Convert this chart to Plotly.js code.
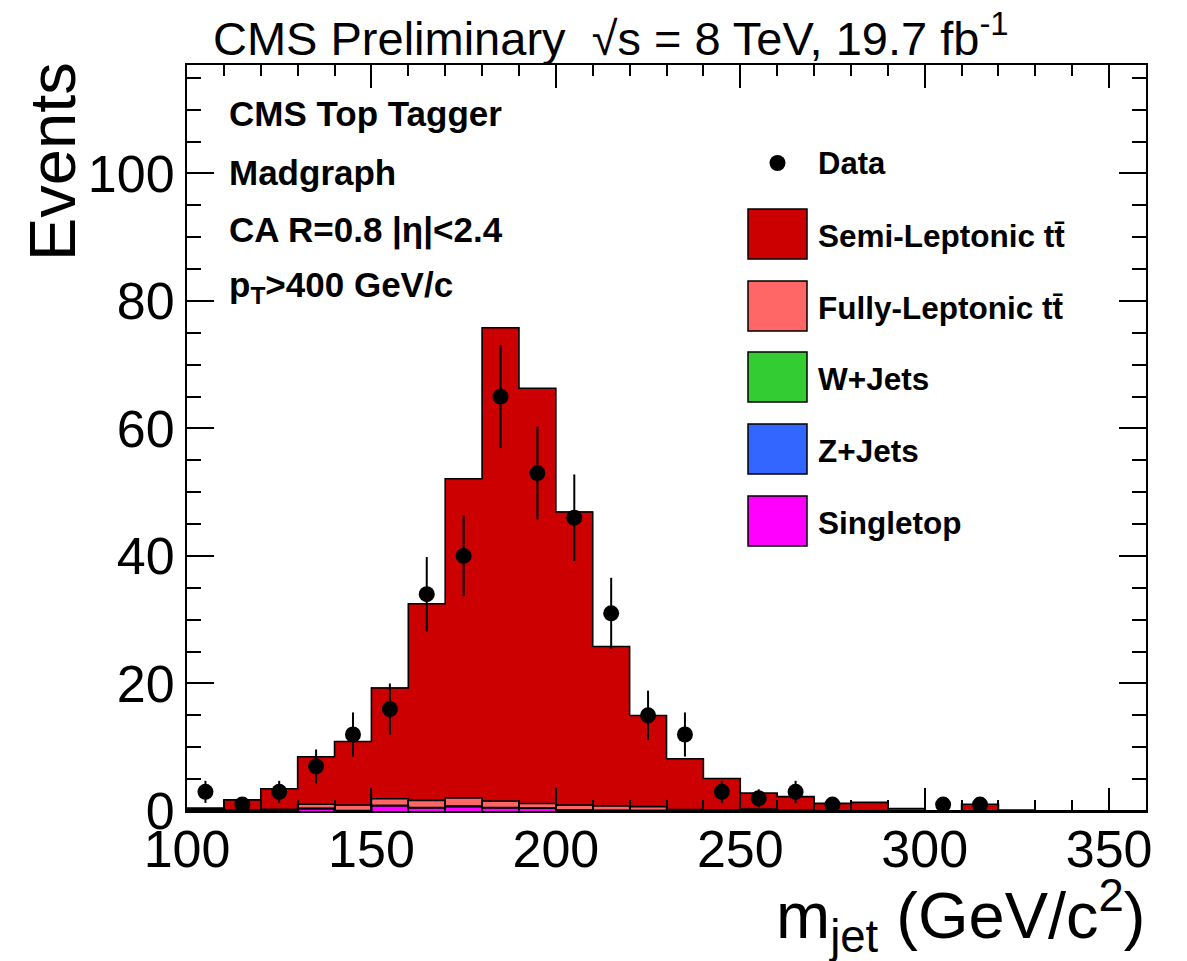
<!DOCTYPE html>
<html><head><meta charset="utf-8">
<script src="https://cdn.plot.ly/plotly-3.0.1.min.js"></script>
<style>html,body{margin:0;padding:0;background:#fff}#chart{width:1187px;height:961px}</style>
</head><body><div id="chart"></div>
<script>
// ---- data ----
const binCenters = [105,115,125,135,145,155,165,175,185,195,205,215,225,235,245,255,265,275,285,295,305,315,325,335,345,355];
const binWidth = 10;
const singleTop     = [0.05,0.02,0.05,0.37,0.05,0.83,0.52,0.73,0.52,0.42,0.12,0.06,0.04,0.03,0.03,0.10,0.02,0,0,0,0,0,0,0,0,0];
const zJets         = [0.02,0,0,0.02,0,0.03,0,0,0,0,0,0,0.02,0,0,0.05,0,0,0,0,0,0,0,0,0,0];
const wJets         = [0.05,0.03,0.05,0,0.03,0,0.03,0,0.03,0,0,0,0.02,0,0,0.05,0,0,0,0,0,0,0,0,0,0];
const fullyLeptonic = [0.10,0.10,0.15,0.66,0.86,1.07,1.12,1.33,1.01,0.76,0.80,0.75,0.60,0.20,0.15,0.10,0.10,0.05,0.05,0,0,0,0,0,0,0];
const semiLeptonic  = [0.23,1.60,3.25,7.45,9.96,17.37,30.83,50.04,74.24,65.12,45.98,24.99,14.29,7.97,4.92,2.50,2.13,1.15,1.30,0.40,0,1.05,0.15,0,0,0];
const dataCounts    = [3,1,3,7,12,16,34,40,65,53,46,31,15,12,3,2,3,1,0,0,1,1,0,0,0,0];
const dataErrors    = [1.73,1,1.73,2.65,3.46,4,5.83,6.32,8.06,7.28,6.78,5.57,3.87,3.46,1.73,1.41,1.73,1,0,0,1,1,0,0,0,0];

const stackNames  = ['Singletop','Z+Jets','W+Jets','Fully-Leptonic t\u0074\u0304','Semi-Leptonic t\u0074\u0304'];
const stackColors = ['#FF00FF','#3366FF','#33CC33','#FF6666','#CC0000'];
const stackValues = [singleTop, zJets, wJets, fullyLeptonic, semiLeptonic];
const legendOrder = [4,3,2,1,0];
const infoLines = ['CMS Top Tagger','Madgraph','CA R=0.8 |\u03b7|&lt;2.4','p<sub>T</sub>&gt;400 GeV/c'];

// ---- geometry helpers ----
const W=1187,H=961,L=187,R=41,T=65,B=150;
const pw=W-L-R, ph=H-T-B;
const px = x => (x-L)/pw;
const py = y => (H-B-y)/ph;
const FONT = 'Liberation Sans, Arial, Helvetica, sans-serif';

const traces = [];
// stacked filled bars
stackValues.forEach((vals,k)=>{
  traces.push({type:'bar', x:binCenters, y:vals, marker:{color:stackColors[k], line:{color:stackColors[k], width:0.8}},
    hoverinfo:'skip', name:stackNames[k]});
});
// step outlines of cumulative stacks
const lowEdges = binCenters.map(c=>c-binWidth/2);
const lastEdge = binCenters[binCenters.length-1]+binWidth/2;
let cum = binCenters.map(()=>0);
stackValues.forEach((vals,k)=>{
  cum = cum.map((c,i)=>c+vals[i]);
  const xs=[lowEdges[0], ...lowEdges, lastEdge, lastEdge];
  const ys=[0, ...cum, cum[cum.length-1], 0];
  traces.push({type:'scatter', mode:'lines', x:xs, y:ys, line:{color:'black', width:1.6, shape:'hv'}, hoverinfo:'skip', showlegend:false});
});
// data points
traces.push({type:'scatter', mode:'markers', x:binCenters, y:dataCounts.map(v=>v>0?v:null),
  error_y:{type:'data', array:dataErrors, visible:true, color:'black', thickness:2, width:0},
  marker:{color:'black', size:16}, hoverinfo:'skip', name:'Data', cliponaxis:false});

const shapes=[], annotations=[];
// title
annotations.push({xref:'paper',yref:'paper',x:px(211),y:py(35),xanchor:'left',yanchor:'middle',showarrow:false,
  text:'CMS Preliminary  \u221as = 8 TeV, 19.7 fb<sup>-1</sup>', font:{family:FONT,size:47,color:'black'}});
// info lines
const infoY=[113,172,230,287];
infoLines.forEach((t,i)=>annotations.push({xref:'paper',yref:'paper',x:px(227),y:py(infoY[i]),xanchor:'left',yanchor:'middle',
  showarrow:false,text:'<b>'+t+'</b>',font:{family:FONT,size:35,color:'black'}}));
// legend
const legTextX=px(816);
annotations.push({xref:'paper',yref:'paper',x:legTextX,y:py(163),xanchor:'left',yanchor:'middle',showarrow:false,
  text:'<b>Data</b>',font:{family:FONT,size:31,color:'black'}});
shapes.push({type:'circle',xref:'paper',yref:'paper',x0:px(769.5),x1:px(785.5),y0:py(155),y1:py(171),fillcolor:'black',line:{color:'black',width:0}});
const legY=[234,306,377,449,521];
legendOrder.forEach((k,i)=>{
  const cy=legY[i];
  shapes.push({type:'rect',xref:'paper',yref:'paper',x0:px(748),x1:px(807),y0:py(cy+25),y1:py(cy-25),
    fillcolor:stackColors[k],line:{color:'black',width:1.5}});
  annotations.push({xref:'paper',yref:'paper',x:legTextX,y:py(cy+2),xanchor:'left',yanchor:'middle',showarrow:false,
    text:'<b>'+stackNames[k]+'</b>',font:{family:FONT,size:31.5,color:'black'}});
});
// axis titles
annotations.push({xref:'paper',yref:'paper',x:px(1148),y:py(916),xanchor:'right',yanchor:'middle',showarrow:false,
  text:'m<sub>jet</sub> (GeV/c<sup>2</sup>)',font:{family:FONT,size:65,color:'black'}});
annotations.push({xref:'paper',yref:'paper',x:px(52),y:py(162),xanchor:'center',yanchor:'middle',showarrow:false,textangle:-90,
  text:'Events',font:{family:FONT,size:65,color:'black'}});

const axisCommon = {ticks:'inside', tickcolor:'black', tickwidth:2, showline:true, linecolor:'black', linewidth:2,
  mirror:'allticks', showgrid:false, zeroline:false, tickfont:{family:FONT,size:52,color:'black'}};
const layout = {
  width:W, height:H, margin:{l:L,r:R,t:T,b:B}, paper_bgcolor:'white', plot_bgcolor:'white',
  barmode:'stack', bargap:0, showlegend:false, hovermode:false,
  xaxis:Object.assign({}, axisCommon, {range:[100,360], tick0:100, dtick:50, ticklen:23, ticklabelstandoff:-8,
    minor:{dtick:10, tick0:100, ticks:'inside', ticklen:11, tickwidth:2, tickcolor:'black'}}),
  yaxis:Object.assign({}, axisCommon, {range:[0,117], tick0:0, dtick:20, ticklen:27,
    minor:{dtick:5, tick0:0, ticks:'inside', ticklen:14, tickwidth:2, tickcolor:'black'}}),
  shapes:shapes, annotations:annotations
};
Plotly.newPlot('chart', traces, layout, {staticPlot:true, displayModeBar:false});
</script></body></html>
